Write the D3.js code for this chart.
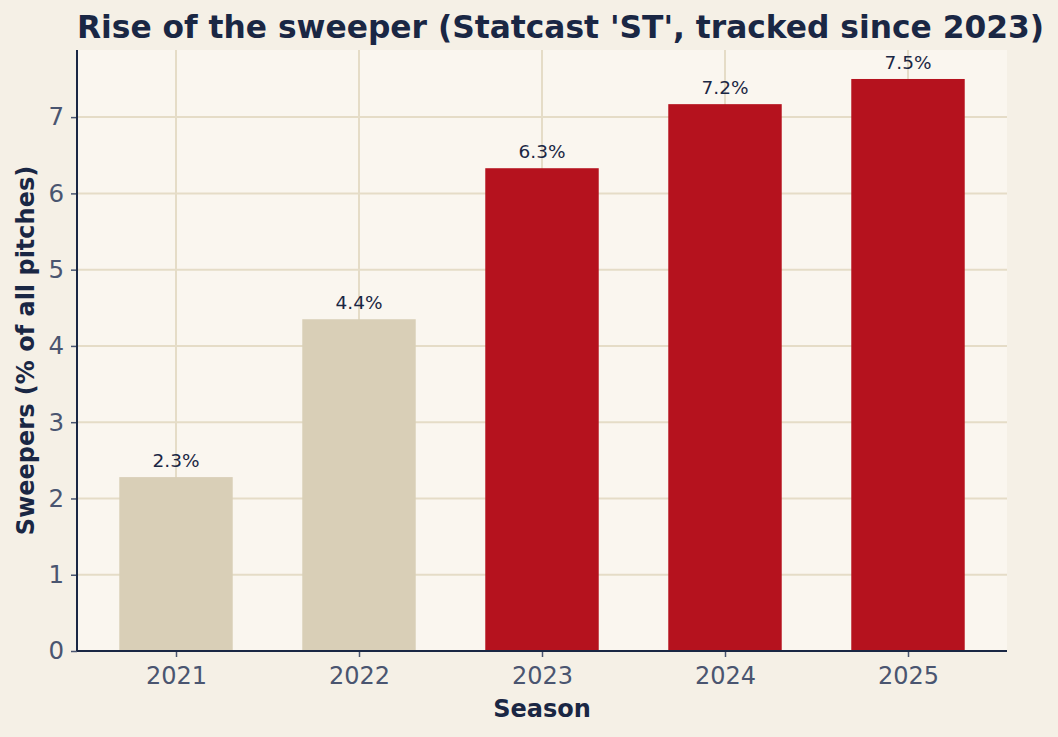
<!DOCTYPE html>
<html>
<head>
<meta charset="utf-8">
<script src="https://cdn.jsdelivr.net/npm/d3@7"></script>
<style>
  body { margin: 0; background: #f5f0e6; }
  svg { display: block; font-family: "DejaVu Sans", sans-serif; }
</style>
</head>
<body>
<div class="chart"></div>
<script>
// seasons and sweeper share (% of all pitches)
const seasons = ['2021', '2022', '2023', '2024', '2025'];
const sweeperPct = [2.28, 4.35, 6.33, 7.17, 7.50];
const barLabels = ['2.3%', '4.4%', '6.3%', '7.2%', '7.5%'];
const yTicks = [0, 1, 2, 3, 4, 5, 6, 7];

const width = 1058, height = 737;
const margin = {top: 50, right: 51, bottom: 86, left: 77};

const svg = d3.select('.chart').append('svg').attr('width', width).attr('height', height);
svg.append('rect').attr('width', width).attr('height', height).attr('fill', '#f5f0e6');

const plotW = width - margin.left - margin.right;
const plotH = height - margin.top - margin.bottom;
const g = svg.append('g').attr('transform', `translate(${margin.left},${margin.top})`);

g.append('rect').attr('width', plotW).attr('height', plotH).attr('fill', '#faf6ef');

// numeric x like matplotlib: bars at 0..4, width 0.62, 5% margins
const xIdx = d3.scaleLinear().domain([-0.541, 4.541]).range([0, plotW]);
const bw = xIdx(0.62) - xIdx(0);
const y = d3.scaleLinear().domain([0, 7.88]).range([plotH, 0]);

// grid
g.selectAll('.hgrid').data(yTicks).join('line')
  .attr('x1', 0).attr('x2', plotW)
  .attr('y1', d => y(d)).attr('y2', d => y(d))
  .attr('stroke', '#e5dcc7').attr('stroke-width', 2);
g.selectAll('.vgrid').data(seasons).join('line')
  .attr('x1', (d, i) => xIdx(i)).attr('x2', (d, i) => xIdx(i))
  .attr('y1', 0).attr('y2', plotH)
  .attr('stroke', '#e5dcc7').attr('stroke-width', 2);

// bars
g.selectAll('.bar').data(sweeperPct).join('rect')
  .attr('x', (d, i) => xIdx(i) - bw / 2)
  .attr('width', bw)
  .attr('y', d => y(d))
  .attr('height', d => y(0) - y(d))
  .attr('fill', (d, i) => +seasons[i] >= 2023 ? '#b5121e' : '#d9cfb7');

// value labels
g.selectAll('.val').data(sweeperPct).join('text')
  .attr('x', (d, i) => xIdx(i))
  .attr('y', d => y(d) - 10)
  .attr('text-anchor', 'middle')
  .attr('font-size', 18.5)
  .attr('fill', '#1a2744')
  .text((d, i) => barLabels[i]);

// y axis
const yAxis = g.append('g').call(d3.axisLeft(y).tickValues(yTicks).tickSize(6).tickPadding(7));
yAxis.select('.domain').remove();
yAxis.selectAll('.tick line').attr('stroke', '#4a5570').attr('stroke-width', 1.5);
yAxis.selectAll('.tick text').attr('font-size', 24.5).attr('fill', '#4a5570').attr('font-family', 'DejaVu Sans');

// x axis
const xAxis = g.append('g').attr('transform', `translate(0,${plotH})`)
  .call(d3.axisBottom(xIdx).tickValues(d3.range(seasons.length)).tickFormat(i => seasons[i]).tickSize(6).tickPadding(10));
xAxis.select('.domain').remove();
xAxis.selectAll('.tick line').attr('stroke', '#4a5570').attr('stroke-width', 1.5);
xAxis.selectAll('.tick text').attr('font-size', 24).attr('fill', '#4a5570').attr('font-family', 'DejaVu Sans');

// spines
g.append('line').attr('x1', 0).attr('x2', 0).attr('y1', 0).attr('y2', plotH)
  .attr('stroke', '#1a2744').attr('stroke-width', 2);
g.append('line').attr('x1', 0).attr('x2', plotW).attr('y1', plotH).attr('y2', plotH)
  .attr('stroke', '#1a2744').attr('stroke-width', 2);

// axis labels
svg.append('text')
  .attr('x', margin.left + plotW / 2).attr('y', 717)
  .attr('text-anchor', 'middle').attr('font-size', 24).attr('font-weight', 'bold')
  .attr('fill', '#1a2744').text('Season');
svg.append('text')
  .attr('transform', `translate(34,${margin.top + plotH / 2}) rotate(-90)`)
  .attr('text-anchor', 'middle').attr('font-size', 24).attr('font-weight', 'bold')
  .attr('fill', '#1a2744').text('Sweepers (% of all pitches)');

// title
svg.append('text')
  .attr('x', 77).attr('y', 38)
  .attr('font-size', 31.3).attr('font-weight', 'bold')
  .attr('fill', '#1a2744').text("Rise of the sweeper (Statcast 'ST', tracked since 2023)");
</script>
</body>
</html>
